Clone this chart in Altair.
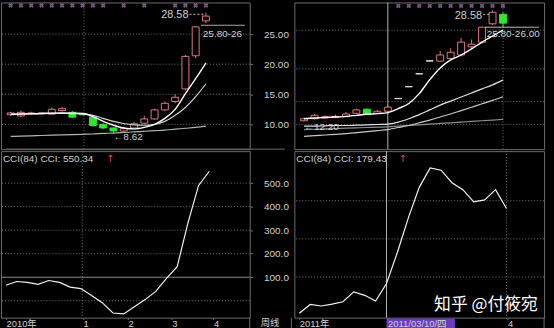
import altair as alt
import pandas as pd

# ---------------- left window : weekly K-line, 2010 ----------------
L_week  = list(range(20))
L_open  = [11.6, 11.4, 11.8, 11.8, 11.7, 12.3, 12.0, 11.8, 11.2, 10.0, 9.4, 8.9, 9.4, 10.2, 10.9, 12.4, 13.8, 15.9, 21.4, 27.2]
L_close = [11.9, 12.0, 11.9, 11.9, 12.5, 12.6, 11.2, 11.6, 9.8, 9.4, 8.9, 9.3, 10.1, 10.9, 12.4, 13.5, 14.5, 21.3, 26.2, 28.0]
L_high  = [12.1, 12.3, 12.1, 12.0, 12.8, 12.9, 12.2, 11.9, 11.4, 10.2, 9.5, 9.6, 10.4, 11.4, 12.6, 13.8, 15.0, 21.5, 26.3, 28.58]
L_low   = [11.4, 11.2, 11.6, 11.7, 11.6, 12.1, 11.1, 11.5, 9.6, 9.2, 8.62, 8.7, 9.3, 10.0, 10.8, 12.2, 13.5, 15.6, 21.0, 26.8]
L_ma1 = [11.65, 11.7, 11.75, 11.8, 11.85, 11.9, 11.85, 11.8, 11.3, 10.5, 9.85, 9.4, 9.25, 9.5, 10.0, 11.0, 12.5, 15.1, 17.6, 20.2]
L_ma2 = [11.7, 11.75, 11.8, 11.8, 11.85, 11.85, 11.8, 11.75, 11.5, 11.0, 10.5, 10.15, 9.9, 9.85, 10.0, 10.5, 11.5, 12.8, 14.6, 16.75]
L_ma3 = [8.0, 8.05, 8.1, 8.15, 8.2, 8.25, 8.3, 8.35, 8.4, 8.5, 8.55, 8.65, 8.75, 8.85, 8.95, 9.05, 9.2, 9.35, 9.5, 9.7]
L_cci = [66, 82, 78, 70, 86, 78, 58, 52, 22, -8, -52, -56, -25, 5, 40, 95, 145, 330, 490, 550.34]
L_sig = [0, 1, 2, 3, 4, 5, 6, 7, 8, 9, 11, 13, 16, 17, 18, 19]
L_xticks = [0, 7.2, 11.4, 15.5, 19.4]
L_xlabels = ["2010年", "1", "2", "3", "4"]

# ---------------- right window : 2011 ----------------
R_day   = list(range(20))
R_open  = [12.3, 12.6, 12.7, 12.8, 12.9, 13.4, 14.0, 13.4, 13.7, 15.55, 17.3, 19.2, 21.1, 21.1, 21.5, 22.0, 23.2, 23.9, 26.6, 28.0]
R_close = [12.6, 13.1, 12.9, 12.95, 13.3, 13.9, 13.3, 13.7, 14.3, 15.6, 17.35, 19.25, 21.15, 22.0, 22.4, 23.9, 23.6, 26.1, 28.3, 26.7]
R_high  = [12.8, 13.3, 13.1, 13.2, 13.6, 14.1, 14.1, 13.9, 14.6, 15.6, 17.35, 19.25, 21.15, 22.6, 23.0, 24.5, 24.3, 26.2, 28.58, 28.3]
R_low   = [12.2, 12.5, 12.6, 12.7, 12.8, 13.3, 13.2, 13.3, 13.6, 15.55, 17.3, 19.2, 21.1, 21.0, 21.3, 21.8, 23.0, 23.7, 26.4, 26.1]
R_ma1 = [12.6, 12.7, 12.8, 12.85, 12.95, 13.1, 13.25, 13.35, 13.5, 14.1, 14.85, 16.3, 18.35, 20.1, 21.27, 22.0, 22.9, 23.9, 24.8, 25.66]
R_ma2 = [11.5, 11.5, 11.55, 11.6, 11.6, 11.65, 11.7, 11.75, 11.8, 12.1, 12.6, 13.2, 13.9, 14.6, 15.2, 15.8, 16.4, 17.0, 17.6, 18.3]
R_ma3 = [10.0, 10.1, 10.2, 10.3, 10.4, 10.55, 10.7, 10.85, 11.0, 11.3, 11.6, 12.0, 12.4, 12.85, 13.3, 13.8, 14.3, 14.8, 15.3, 15.85]
R_ma4 = [11.0, 11.05, 11.1, 11.15, 11.2, 11.25, 11.3, 11.35, 11.4, 11.5, 11.6, 11.7, 11.8, 11.9, 12.0, 12.1, 12.2, 12.3, 12.4, 12.5]
R_cci = [-95, -72, -76, -71, -65, -39, -48, -63, -17, 65, 155, 235, 286, 280, 247, 229, 197, 202, 229, 179.43]
R_sig = [9, 10, 11, 12, 13, 14, 15, 16, 17, 18, 19]
R_xticks = [0, 8.1, 19.1]
R_xlabels = ["2011年", "2011/03/10/四", "4"]

PRICE_TICKS = [10, 15, 20, 25]
CCI_TICKS = [100, 200, 300, 400, 500]
R_PRICE_GRID = [11.77, 15.13, 19.95, 25.66]
R_CCI_GRID = [0, 100, 200]

# ---------------- styling ----------------
BG = "#000000"
UP = "#e07480"
DN = "#2ee82e"
FLAT = "#dcdcdc"
GRID = "#767676"
BORDER = "#6c6c6c"
TXT = "#d0d0d0"
FONT = "Liberation Sans"
CJK = "Liberation Sans, Noto Sans CJK SC"

W_L, W_R, H_P, H_C = 251, 252, 148, 168
L_XDOM, L_PDOM, L_CDOM = [-0.463, 22.78], [5.88, 30.26], [-71.6, 635.8]
R_XDOM, R_PDOM, R_CDOM = [-0.4545, 22.45], [8.11, 29.75], [-106.5, 329.9]


def kind_of(o, c, h, l):
    if h - l < 0.1:
        return "flat"
    return "up" if c >= o else "down"


def kdf(xs, o, c, h, l, mas, cci):
    d = pd.DataFrame({"x": xs, "open": o, "close": c, "high": h, "low": l, "cci": cci})
    for k, v in enumerate(mas):
        d[f"ma{k+1}"] = v
    d["kind"] = [kind_of(*t) for t in zip(o, c, h, l)]
    return d


Ldf = kdf(L_week, L_open, L_close, L_high, L_low, [L_ma1, L_ma2, L_ma3], L_cci)
Rdf = kdf(R_day, R_open, R_close, R_high, R_low, [R_ma1, R_ma2, R_ma3, R_ma4], R_cci)

kinds = ["up", "down", "flat"]
c_scale = alt.Scale(domain=kinds, range=[UP, DN, FLAT])
f_scale = alt.Scale(domain=kinds, range=[BG, DN, FLAT])


def sc(dom):
    return alt.Scale(domain=dom, nice=False, zero=False)


def price_pane(df, xdom, pdom, width, yaxis, sig, grid_vals, ma_styles, ann, line_ann, extra):
    X = lambda f="x": alt.X(f"{f}:Q", scale=sc(xdom), axis=None)
    Y = lambda f: alt.Y(f"{f}:Q", scale=sc(pdom), axis=yaxis)
    layers = []
    g = pd.DataFrame({"y": grid_vals})
    layers.append(alt.Chart(g).mark_rule(color=GRID, strokeDash=[1, 2], strokeWidth=1).encode(y=Y("y")))
    for v in extra:
        layers.append(v(X, Y))
    layers.append(alt.Chart(df).mark_rule(strokeWidth=1).encode(
        x=X(), y=Y("low"), y2="high:Q", color=alt.Color("kind:N", scale=c_scale, legend=None)))
    layers.append(alt.Chart(df).mark_bar(size=7, strokeWidth=1).encode(
        x=X(), y=Y("open"), y2="close:Q",
        fill=alt.Fill("kind:N", scale=f_scale, legend=None),
        stroke=alt.Stroke("kind:N", scale=c_scale, legend=None)))
    for f, col, sw in ma_styles:
        layers.append(alt.Chart(df).mark_line(color=col, strokeWidth=sw, interpolate="monotone").encode(x=X(), y=Y(f)))
    s = pd.DataFrame({"x": sig, "y": [pdom[1] - 0.5] * len(sig)})
    layers.append(alt.Chart(s).mark_point(shape="cross", angle=45, size=24, filled=True, color="#a876b8").encode(
        x=X(), y=Y("y")))
    for (x1, x2, yv, dash) in line_ann:
        d = pd.DataFrame({"x": [x1], "x2": [x2], "y": [yv]})
        layers.append(alt.Chart(d).mark_rule(color="#c8c8c8", strokeWidth=1, strokeDash=dash).encode(
            x=X(), x2="x2:Q", y=Y("y")))
    for (t, xv, yv, align, fs, clip) in ann:
        d = pd.DataFrame({"x": [xv], "y": [yv], "t": [t]})
        layers.append(alt.Chart(d).mark_text(align=align, baseline="middle", font=FONT, fontSize=fs,
                                             color=TXT, clip=clip).encode(x=X(), y=Y("y"), text="t:N"))
    return alt.layer(*layers).properties(width=width, height=H_P)


def cci_pane(df, xdom, cdom, width, yaxis, xaxis, dotted, solid, head, arrow_x, extra):
    X = lambda f="x": alt.X(f"{f}:Q", scale=sc(xdom), axis=xaxis)
    Y = lambda f: alt.Y(f"{f}:Q", scale=sc(cdom), axis=yaxis)
    layers = []
    layers.append(alt.Chart(pd.DataFrame({"y": dotted})).mark_rule(color=GRID, strokeDash=[1, 2]).encode(y=Y("y")))
    if solid:
        layers.append(alt.Chart(pd.DataFrame({"y": solid})).mark_rule(color="#8a8a8a").encode(y=Y("y")))
    for v in extra:
        layers.append(v(X, Y))
    layers.append(alt.Chart(df).mark_line(color="#f2f2f2", strokeWidth=1.2).encode(x=X(), y=Y("cci")))
    hx, hy = head
    d = pd.DataFrame({"x": [hx], "y": [hy], "t": ["CCI(84)  CCI: " + f"{df['cci'].iloc[-1]:.2f}"]})
    layers.append(alt.Chart(d).mark_text(align="left", baseline="middle", font=FONT, fontSize=10, color=TXT).encode(
        x=X(), y=Y("y"), text="t:N"))
    d2 = pd.DataFrame({"x": [arrow_x], "y": [hy], "t": ["↑"]})
    layers.append(alt.Chart(d2).mark_text(align="left", baseline="middle", font="DejaVu Sans", fontSize=10,
                                          color="#e04848").encode(x=X(), y=Y("y"), text="t:N"))
    return alt.layer(*layers).properties(width=width, height=H_C)


def lbl_expr(ticks, labels):
    e = f"'{labels[-1]}'"
    for i in range(len(ticks) - 2, -1, -1):
        mid = (ticks[i] + ticks[i + 1]) / 2
        e = f"datum.value < {mid} ? '{labels[i]}' : ({e})"
    return e


def xaxis(ticks, labels):
    return alt.Axis(values=ticks, labelExpr=lbl_expr(ticks, labels), labelAlign="left", labelBaseline="top",
                    labelPadding=-1, tickSize=2, tickColor=BORDER, labelColor=TXT, labelFont=CJK,
                    labelFontSize=9.5, labelFlush=False, labelOverlap=False, labelBound=False, domain=False,
                    grid=False, title=None, minExtent=11, maxExtent=11, zindex=2)


def yaxis_left(ticks, fmt):
    return alt.Axis(orient="right", values=ticks, format=fmt, labelAlign="right", labelBaseline="middle",
                    labelPadding=36, tickSize=3, tickColor=BORDER, labelColor=TXT, labelFont=FONT, labelFontSize=10,
                    domain=False, grid=False, title=None, minExtent=42, maxExtent=42)


yaxis_blank = alt.Axis(orient="right", labels=False, ticks=False, domain=False, grid=False, title=None,
                       minExtent=9, maxExtent=9)

# ---- left price pane ----
def l_vline(X, Y):
    return alt.Chart(pd.DataFrame({"x": [7.13]})).mark_rule(color=GRID, strokeDash=[1, 2]).encode(x=X())


def l_sep(X, Y):
    d = pd.DataFrame({"x": [L_XDOM[0]], "x2": [26.67], "y": [L_PDOM[0]]})
    return alt.Chart(d).mark_rule(color=BORDER, clip=False).encode(x=X(), x2="x2:Q", y=Y("y"))


lp = price_pane(
    Ldf, L_XDOM, L_PDOM, W_L, yaxis_left(PRICE_TICKS, ".2f"), L_sig, PRICE_TICKS,
    [("ma3", "#a4bca4", 1.2), ("ma2", "#d0d0d0", 1.2), ("ma1", "#ffffff", 1.4)],
    [("28.58", 17.3, 28.1, "right", 11, False), ("25.80-26", 18.7, 25.0, "left", 10, True),
     ("←8.62", 10.0, 7.86, "left", 10, False)],
    [(17.4, 18.9, 28.3, [2, 2]), (18.5, L_XDOM[1], 26.47, [1, 0])],
    [l_vline, l_sep])

# ---- right price pane ----
def r_vlines(X, Y):
    return alt.Chart(pd.DataFrame({"x": [8]})).mark_rule(color="#b4b4b4").encode(x=X())


def r_vline2(X, Y):
    return alt.Chart(pd.DataFrame({"x": [19]})).mark_rule(color=GRID, strokeDash=[1, 2]).encode(x=X())


rp = price_pane(
    Rdf, R_XDOM, R_PDOM, W_R, yaxis_blank, R_sig, R_PRICE_GRID,
    [("ma4", "#8c948c", 1.2), ("ma3", "#c8c8c8", 1.2), ("ma2", "#e0e0e0", 1.2), ("ma1", "#ffffff", 1.4)],
    [("28.58", 17.0, 27.7, "right", 11, False), ("25.80-26.00", 17.45, 25.07, "left", 10, False),
     ("←12.20", 0.0, 11.33, "left", 10, False)],
    [(17.1, 17.8, 28.0, [2, 2]), (17.3, R_XDOM[1], 26.1, [1, 0])],
    [r_vlines, r_vline2])

# ---- left CCI pane ----
def l_weekline(X, Y):
    d = pd.DataFrame({"x": [23.8], "y": [-92.6], "t": ["周线"]})
    return alt.Chart(d).mark_text(align="left", baseline="middle", font=CJK, fontSize=9.5, color=TXT,
                                  clip=False).encode(x=X(), y=Y("y"), text="t:N")


def l_divs(X, Y):
    d = pd.DataFrame({"x": [L_XDOM[1], 26.67], "y": [L_CDOM[0]] * 2, "y2": [-118, -118]})
    return alt.Chart(d).mark_rule(color=BORDER, clip=False).encode(x=X(), y=Y("y"), y2="y2:Q")


lc = cci_pane(Ldf, L_XDOM, L_CDOM, W_L, yaxis_left(CCI_TICKS, ".1f"), xaxis(L_xticks, L_xlabels),
              [0, 200, 300, 400, 500], [100], (-0.28, 602), 9.35, [l_vline, l_weekline, l_divs])

# ---- right CCI pane ----
def r_purple(X, Y):
    d = pd.DataFrame({"x": [8.0], "x2": [14.27], "y": [-109.0], "y2": [-134.0]})
    return alt.Chart(d).mark_rect(color="#6a3cc0", clip=False).encode(x=X(), x2="x2:Q", y=Y("y"), y2="y2:Q")


def r_mark(X, Y):
    d = pd.DataFrame({"x": [12.36], "y": [-72.7], "t": ["知乎 @付筱宛"]})
    return alt.Chart(d).mark_text(align="left", baseline="middle", font="Noto Sans CJK SC", fontSize=17,
                                  color="#ffffff").encode(x=X(), y=Y("y"), text="t:N")


def r_div(X, Y):
    d = pd.DataFrame({"x": [R_XDOM[1]], "y": [R_CDOM[0]], "y2": [-134]})
    return alt.Chart(d).mark_rule(color=BORDER, clip=False).encode(x=X(), y=Y("y"), y2="y2:Q")


rc = cci_pane(Rdf, R_XDOM, R_CDOM, W_R, yaxis_blank, xaxis(R_xticks, R_xlabels),
              R_CCI_GRID, [], (-0.27, 309), 9.1, [r_vlines, r_vline2, r_purple, r_mark, r_div])

left = alt.vconcat(lp, lc, spacing=0)
right = alt.vconcat(rp, rc, spacing=0)
chart = alt.hconcat(left, right, spacing=0).properties(padding=0).configure(background=BG).configure_view(
    stroke=BORDER, strokeWidth=1)

chart.save("out.html", embed_options={"renderer": "svg", "actions": False})
